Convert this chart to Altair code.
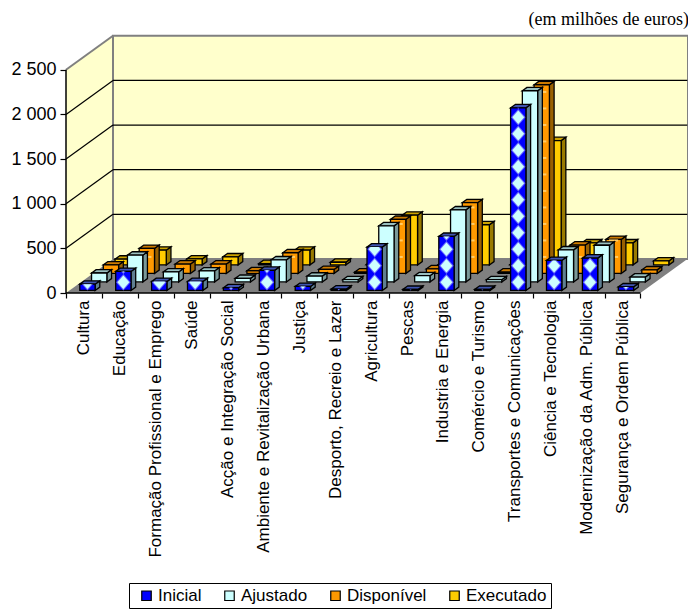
import altair as alt
import pandas as pd

categories = ["Cultura", "Educação", "Formação Profissional e Emprego", "Saúde",
              "Acção e Integração Social", "Ambiente e Revitalização Urbana", "Justiça",
              "Desporto, Recreio e Lazer", "Agricultura", "Pescas", "Industria e Energia",
              "Comércio e Turismo", "Transportes e Comunicações", "Ciência e Tecnologia",
              "Modernização da Adm. Pública", "Segurança e Ordem Pública"]
inicial    = [70, 213, 100, 100, 30, 225, 45, 15, 486, 12, 605, 12, 2045, 336, 362, 40]
ajustado   = [100, 300, 112, 123, 40, 247, 65, 25, 628, 70, 807, 25, 2141, 359, 411, 55]
disponivel = [95, 280, 105, 105, 30, 232, 45, 15, 605, 52, 792, 15, 2113, 318, 381, 40]
executado  = [65, 165, 67, 90, 15, 165, 30, 5, 557, 3, 450, 3, 1393, 247, 247, 45]
series_names = ["Inicial", "Ajustado", "Disponível", "Executado"]
series_values = [inicial, ajustado, disponivel, executado]
front_colors = ["#0000ff", "#ccffff", "#ff9900", "#ffcc00"]
side_colors = ["#5f7f92", "#7a9999", "#996000", "#997a00"]
top_colors = ["#3f55b0", "#99bfbf", "#cc7a00", "#cca300"]
y_ticks = [0, 500, 1000, 1500, 2000, 2500]
grid_values = [500, 1000, 1500, 2000]

CAT_PX = 35.9            # one category, in pixels
VAL_PX = 0.0893          # pixels per euro million
W, H = 622, 257
XMAX, YMAX = W / CAT_PX, H / VAL_PX
N = len(categories)
DX, DY = 47 / CAT_PX, 34 / VAL_PX   # full depth of the floor
STEP_X, STEP_Y = DX / 4, DY / 4     # one series row
BAR_W = 15.3 / CAT_PX
BAR_DX, BAR_DY = 4.7 / CAT_PX, 3.4 / VAL_PX
X0 = 13.8 / CAT_PX
Y0 = 2.55 / VAL_PX

font = "Liberation Sans"
sx = alt.Scale(domain=[0, XMAX], nice=False, zero=False)
sy = alt.Scale(domain=[0, YMAX], nice=False, zero=False)
label_list = "[" + ",".join("'" + c + "'" for c in categories) + "]"
x_axis = alt.Axis(
    values=list(range(N + 1)), labelExpr=label_list + "[datum.value] || ''", labelAngle=270,
    labelOffset=CAT_PX / 2, labelFont=font, labelFontSize=17, labelColor="black", labelPadding=2,
    tickSize=5, tickColor="black", tickWidth=1.2, domain=False, grid=False, labelOverlap=False,
    labelFlush=False, labelBound=False, labelLimit=400)
y_axis = alt.Axis(
    values=y_ticks, labelExpr="replace(format(datum.value, ','), ',', ' ')", labelFont=font,
    labelFontSize=18, labelColor="black", labelPadding=4, tickSize=6, tickColor="black", tickWidth=1.2,
    domain=False, grid=False)
X = alt.X("x:Q", scale=sx, title=None, axis=x_axis)
Y = alt.Y("y:Q", scale=sy, title=None, axis=y_axis)
X2 = alt.X2("x2:Q")
Y2 = alt.Y2("y2:Q")


def para_v(x1, x2, y1, y1b, y2, y2b):
    """Parallelogram with vertical edges."""
    return pd.DataFrame({"x": [x1, x2], "y": [y1, y1b], "y2": [y2, y2b]})


layers = []

# back wall
back = pd.DataFrame({"x": [DX], "x2": [XMAX], "y": [DY], "y2": [2500 + DY]})
layers.append(alt.Chart(back).mark_rect(fill="#ffffcc", stroke="#808080", strokeWidth=2)
              .encode(x=X, x2=X2, y=Y, y2=Y2))

# left wall
layers.append(alt.Chart(para_v(0, DX, 0, DY, 2500, 2500 + DY)).mark_area(fill="#ffffcc").encode(x=X, y=Y, y2=Y2))
layers.append(alt.Chart(pd.DataFrame({"x": [0], "x2": [DX], "y": [2500], "y2": [2500 + DY]}))
              .mark_rule(color="#808080", strokeWidth=2).encode(x=X, x2=X2, y=Y, y2=Y2))
layers.append(alt.Chart(pd.DataFrame({"x": [DX], "y": [DY], "y2": [2500 + DY]}))
              .mark_rule(color="#808080", strokeWidth=2).encode(x=X, y=Y, y2=Y2))

# floor
floor = pd.DataFrame({"x": [0, DX], "x2": [N, N + DX], "y": [0, DY]})
layers.append(alt.Chart(floor).mark_area(orient="horizontal", fill="#808080").encode(x=X, x2=X2, y=Y))

# grid lines
grid = pd.DataFrame({"v": grid_values})
grid["x"], grid["x2"], grid["y"], grid["y2"] = 0.0, DX, grid["v"].astype(float), grid["v"] + DY
layers.append(alt.Chart(grid).mark_rule(color="black", strokeWidth=1.2).encode(x=X, x2=X2, y=Y, y2=Y2))
grid_b = pd.DataFrame({"y": [v + DY for v in grid_values]})
grid_b["x"], grid_b["x2"] = DX, XMAX - 0.02
layers.append(alt.Chart(grid_b).mark_rule(color="black", strokeWidth=1.2).encode(x=X, x2=X2, y=Y))

TILE_PX = 16.5
TILE_W = TILE_PX / VAL_PX


def diamonds(xc, base, value, rx, ry, cat):
    rows = []
    h = value * VAL_PX
    k = 0
    while (k + 0.5) * TILE_PX - ry < h:
        cy = (k + 0.5) * TILE_PX
        us = sorted({-1.0, 1.0, 0.0,
                     *[s * min(1, max(0, (cy + ry - h) / ry)) for s in (-1, 1)],
                     *[s * min(1, max(0, (ry - abs(h - cy)) / ry if h < cy else 1)) for s in (-1, 1)]})
        for u in us:
            hi = min(cy + ry * (1 - abs(u)), h)
            lo = cy - ry * (1 - abs(u))
            if lo > hi:
                continue
            rows.append({"x": xc + u * rx / CAT_PX, "y": base + hi / VAL_PX, "y2": base + lo / VAL_PX,
                         "g": f"{cat}-{k}"})
        k += 1
    return rows


color_scale = alt.Scale(domain=series_names, range=front_colors)

for s in [3, 2, 1, 0]:
    name = series_names[s]
    fronts, sides, tops = [], [], []
    for c, v in enumerate(series_values[s]):
        xl = c + X0 + s * STEP_X
        xr = xl + BAR_W
        yb = Y0 + s * STEP_Y
        yt = yb + v
        fronts.append({"x": xl, "x2": xr, "y": yt, "y2": yb, "serie": name})
        sides += [{"x": xr, "y": yt, "y2": yb, "g": c},
                  {"x": xr + BAR_DX, "y": yt + BAR_DY, "y2": yb + BAR_DY, "g": c}]
        tops += [{"x": xl, "x2": xr, "y": yt, "g": c},
                 {"x": xl + BAR_DX, "x2": xr + BAR_DX, "y": yt + BAR_DY, "g": c}]
    layers.append(alt.Chart(pd.DataFrame(sides)).mark_area(fill=side_colors[s], stroke="black", strokeWidth=1.3)
                  .encode(x=X, y=Y, y2=Y2, detail="g:N"))
    layers.append(alt.Chart(pd.DataFrame(tops)).mark_area(orient="horizontal", fill=top_colors[s], stroke="black", strokeWidth=1.3)
                  .encode(x=X, x2=X2, y=Y, detail="g:N"))
    legend = None
    if s == 3:
        legend = alt.Legend(title=None, orient="none", legendX=63, legendY=547, direction="horizontal", columns=4,
                            symbolType="square", symbolSize=90, symbolStrokeColor="black", symbolStrokeWidth=1.2,
                            labelFont=font, labelFontSize=17, labelColor="black", columnPadding=14, padding=4,
                            strokeColor="black", fillColor="white", symbolOffset=5, labelOffset=3)
    layers.append(alt.Chart(pd.DataFrame(fronts)).mark_rect(stroke="black", strokeWidth=1.3)
                  .encode(x=X, x2=X2, y=Y, y2=Y2,
                          color=alt.Color("serie:N", scale=color_scale, legend=legend)))
    if s == 2:
        dashes = []
        for c, v in enumerate(series_values[s]):
            xl = c + X0 + s * STEP_X
            k = 1
            while k * TILE_PX < v * VAL_PX:
                dashes.append({"x": xl + 0.2 * BAR_W, "x2": xl + 0.8 * BAR_W,
                               "y": Y0 + s * STEP_Y + k * TILE_W})
                k += 1
        layers.append(alt.Chart(pd.DataFrame(dashes)).mark_rule(color="#ffcc66", strokeWidth=2)
                      .encode(x=X, x2=X2, y=Y))
    if s == 0:
        for rr, col in [(1.0, "#6666ff"), (0.82, "#ccffff")]:
            rows = []
            for c, v in enumerate(series_values[s]):
                xc = c + X0 + BAR_W / 2
                rows += diamonds(xc, Y0, v, 7.2 * rr, TILE_PX / 2 * rr, c)
            layers.append(alt.Chart(pd.DataFrame(rows)).mark_area(fill=col)
                          .encode(x=X, y=Y, y2=Y2, detail="g:N"))

# axis lines
layers.append(alt.Chart(pd.DataFrame({"x": [0], "y": [0], "y2": [2500]}))
              .mark_rule(color="black", strokeWidth=1.5).encode(x=X, y=Y, y2=Y2))
layers.append(alt.Chart(pd.DataFrame({"x": [0], "x2": [N], "y": [0]}))
              .mark_rule(color="black", strokeWidth=1.5).encode(x=X, x2=X2, y=Y))

chart = alt.layer(*layers).resolve_scale(color="shared").properties(
    width=W, height=H,
    autosize="none",
    padding={"left": 58, "top": 28, "right": 0, "bottom": 318},
    title=alt.TitleParams("(em milhões de euros)", anchor="end", font="Liberation Serif", fontSize=18,
                          fontWeight="normal", color="black", offset=6),
).configure_view(stroke=None)

chart.save("out.html", embed_options={"renderer": "svg", "actions": False})
